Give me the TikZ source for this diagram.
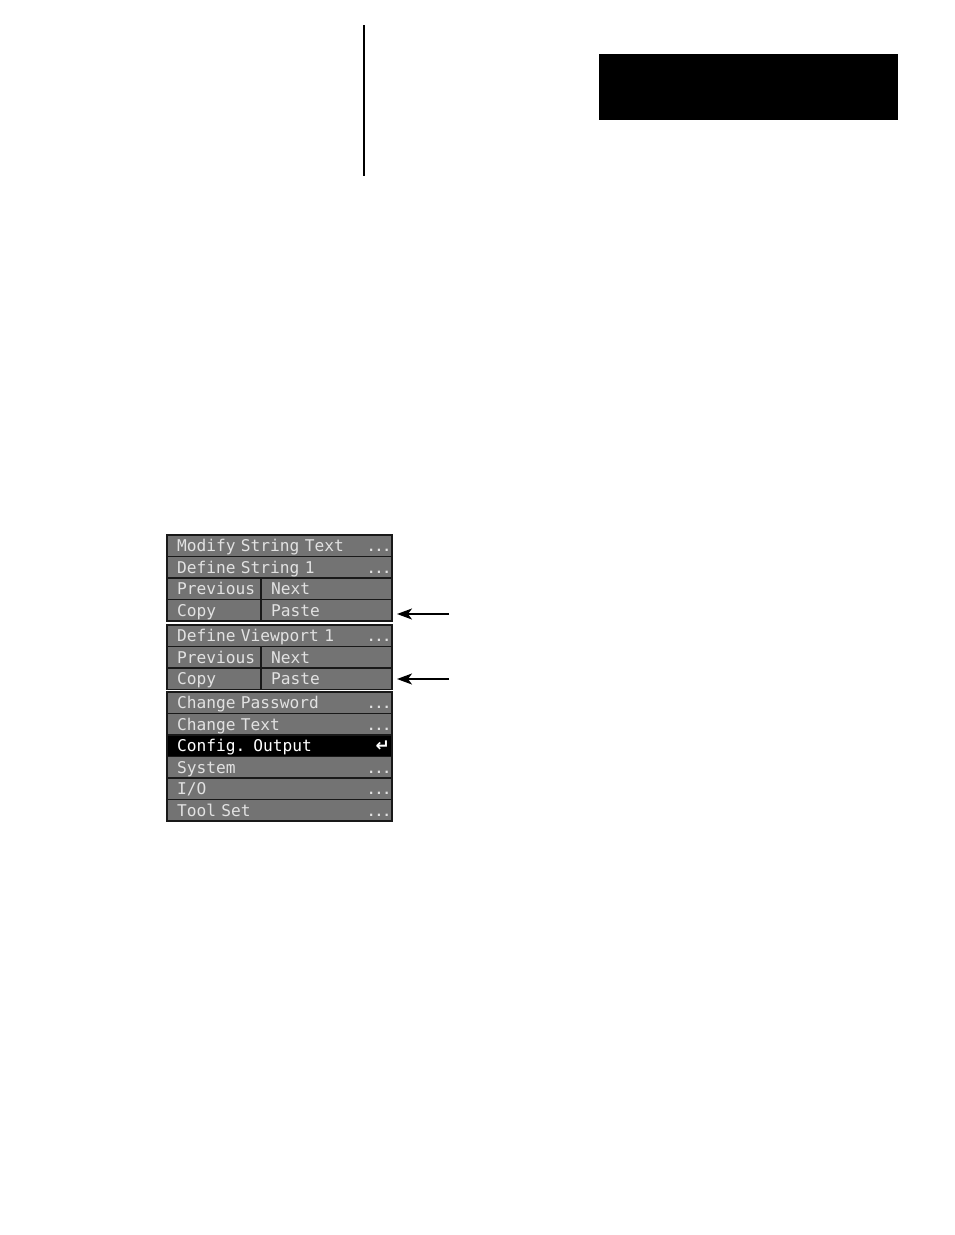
\documentclass[tikz,border=0pt]{standalone}
\usepackage{fontspec}
\setmonofont{DejaVu Sans Mono}
\newfontfamily\symfont{DejaVu Sans}
\usetikzlibrary{positioning,arrows.meta}
\definecolor{menugray}{HTML}{737373}
\definecolor{menutext}{HTML}{E2E2E2}

\begin{document}
\begin{tikzpicture}[x=1pt, y=-1pt, node distance=0pt,
  row/.style={draw=black!90, line width=1.8pt, fill=menugray, outer sep=0pt,
    minimum height=21.5pt, inner xsep=10pt, inner ysep=0pt, align=left,
    text height=14pt, text depth=2pt, text=menutext,
    font=\ttfamily\fontsize{16.2}{16.2}\selectfont},
  wide/.style={row, minimum width=225pt, text width=205pt},
  half/.style={row, minimum width=94pt, text width=74pt},
  rest/.style={row, minimum width=131pt, text width=111pt},
  more/.style={anchor=base east, inner sep=0pt, text=menutext,
    font=\ttfamily\bfseries\fontsize{13}{13}\selectfont},
  pointer/.style={-{Stealth[length=15pt,width=11pt,inset=4pt]}, line width=1.6pt}]
  \useasboundingbox (0,0) rectangle (954,1235);

  % page mark and tab
  \draw[line width=2pt] (364,25) -- (364,176);
  \fill (599,54) rectangle (898,120);

  % first menu
  \node[wide, anchor=north west] (modify) at (167,535) {Modify String Text};
  \node[wide] (defstr) [below =of modify] {Define String 1};
  \node[half] (prev1) [below right =0pt and 0pt of defstr.south west] {Previous};
  \node[rest] (next1) [right =of prev1] {Next};
  \node[half] (copy1) [below =of prev1] {Copy};
  \node[rest] (paste1) [right =of copy1] {Paste};

  % second menu
  \node[wide, anchor=north west] (defview) at (167,625) {Define Viewport 1};
  \node[half] (prev2) [below right =0pt and 0pt of defview.south west] {Previous};
  \node[rest] (next2) [right =of prev2] {Next};
  \node[half] (copy2) [below =of prev2] {Copy};
  \node[rest] (paste2) [right =of copy2] {Paste};

  % third menu
  \node[wide, anchor=north west] (passwd) at (167,692) {Change Password};
  \node[wide] (chtext) [below =of passwd] {Change Text};
  \node[wide, fill=black, text=white] (config) [below =of chtext] {Config. Output};
  \node[wide] (system) [below =of config] {System};
  \node[wide] (io) [below =of system] {I/O};
  \node[wide] (toolset) [below =of io] {Tool Set};

  \node[more] at ([xshift=-1pt]modify.base east) {...};
  \node[more] at ([xshift=-1pt]defstr.base east) {...};
  \node[more] at ([xshift=-1pt]defview.base east) {...};
  \node[more] at ([xshift=-1pt]passwd.base east) {...};
  \node[more] at ([xshift=-1pt]chtext.base east) {...};
  \node[more, text=white, font=\symfont\bfseries\fontsize{17}{17}\selectfont] at ([xshift=-2pt]config.base east) {↵};
  \node[more] at ([xshift=-1pt]system.base east) {...};
  \node[more] at ([xshift=-1pt]io.base east) {...};
  \node[more] at ([xshift=-1pt]toolset.base east) {...};

  % arrows
  \coordinate (tail1) at (449,614);
  \coordinate (tail2) at (449,679);
  \draw[pointer, shorten >=5pt] (tail1) -- (tail1 -| paste1.east);
  \draw[pointer, shorten >=5pt] (tail2) -- (tail2 -| paste2.east);
\end{tikzpicture}
\end{document}
